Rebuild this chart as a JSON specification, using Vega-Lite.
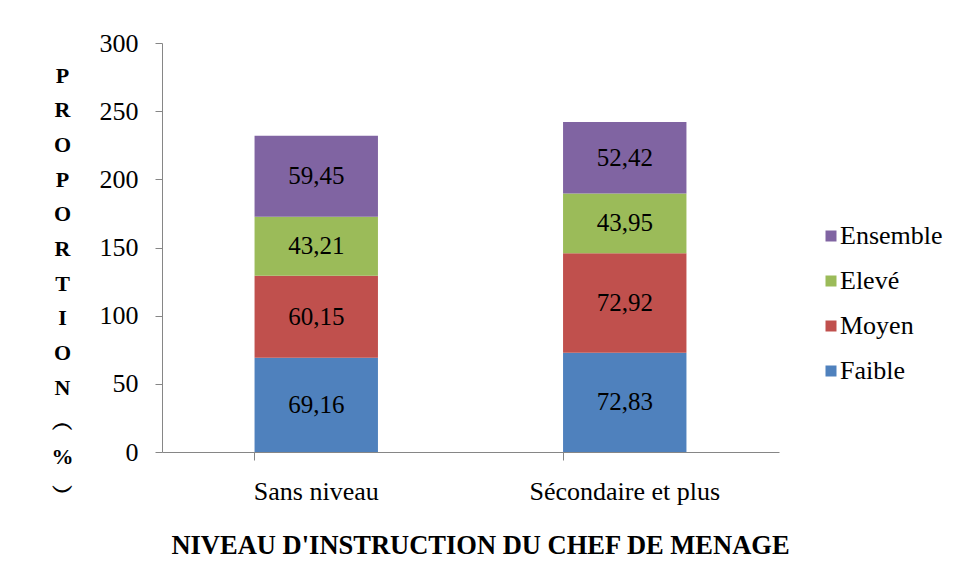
{
  "$schema": "https://vega.github.io/schema/vega-lite/v6.json",
  "width": 617,
  "height": 409,
  "autosize": {"type": "none"},
  "padding": {"left": 162, "top": 43, "right": 179, "bottom": 130},
  "background": "white",
  "config": {
    "view": {"stroke": null},
    "font": "Liberation Serif",
    "locale": {"number": {"decimal": ",", "thousands": " ", "grouping": [3], "currency": ["", " €"]}}
  },
  "data": {
    "values": [
      {"niveau": "Sans niveau", "cat": "Faible", "ord": 1, "v": 69.16},
      {"niveau": "Sans niveau", "cat": "Moyen", "ord": 2, "v": 60.15},
      {"niveau": "Sans niveau", "cat": "Elevé", "ord": 3, "v": 43.21},
      {"niveau": "Sans niveau", "cat": "Ensemble", "ord": 4, "v": 59.45},
      {"niveau": "Sécondaire et plus", "cat": "Faible", "ord": 1, "v": 72.83},
      {"niveau": "Sécondaire et plus", "cat": "Moyen", "ord": 2, "v": 72.92},
      {"niveau": "Sécondaire et plus", "cat": "Elevé", "ord": 3, "v": 43.95},
      {"niveau": "Sécondaire et plus", "cat": "Ensemble", "ord": 4, "v": 52.42}
    ]
  },
  "encoding": {
    "x": {
      "field": "niveau",
      "type": "nominal",
      "sort": ["Sans niveau", "Sécondaire et plus"],
      "scale": {"paddingInner": 0.6, "paddingOuter": 0.3},
      "axis": {
        "title": "NIVEAU D'INSTRUCTION DU CHEF DE MENAGE",
        "titleFont": "Liberation Serif",
        "titleFontSize": 26.5,
        "titleFontWeight": "bold",
        "titleColor": "#000000",
        "titleX": 318,
        "titleY": 93,
        "titleAlign": "center",
        "titleBaseline": "middle",
        "labelAngle": 0,
        "labelFont": "Liberation Serif",
        "labelFontSize": 26,
        "labelColor": "#000000",
        "labelPadding": 18,
        "labelLimit": 400,
        "domainColor": "#868686",
        "tickColor": "#868686",
        "tickSize": 8,
        "bandPosition": 0
      }
    },
    "y": {
      "field": "v",
      "type": "quantitative",
      "stack": "zero",
      "scale": {"domain": [0, 300], "nice": false},
      "axis": {
        "values": [0, 50, 100, 150, 200, 250, 300],
        "grid": false,
        "title": ["P", "R", "O", "P", "O", "R", "T", "I", "O", "N", "︵", "%", "︶"],
        "titleAngle": 0,
        "titleAlign": "center",
        "titleBaseline": "top",
        "titleX": -100,
        "titleY": 22,
        "titleLineHeight": 34.7,
        "titleFont": "Liberation Serif",
        "titleFontSize": 22,
        "titleFontWeight": "bold",
        "titleColor": "#000000",
        "labelFont": "Liberation Serif",
        "labelFontSize": 26,
        "labelColor": "#000000",
        "labelPadding": 17,
        "domainColor": "#868686",
        "tickColor": "#868686",
        "tickSize": 7
      }
    },
    "order": {"field": "ord", "type": "quantitative", "sort": "ascending"}
  },
  "layer": [
    {
      "mark": {"type": "bar"},
      "encoding": {
        "color": {
          "field": "cat",
          "type": "nominal",
          "scale": {
            "domain": ["Ensemble", "Elevé", "Moyen", "Faible"],
            "range": ["#8064A2", "#9BBB59", "#C0504D", "#4F81BD"]
          },
          "legend": {
            "title": null,
            "orient": "none",
            "legendX": 656,
            "legendY": 180,
            "symbolType": "square",
            "symbolSize": 121,
            "symbolStrokeWidth": 0,
            "symbolOpacity": 1,
            "labelFont": "Liberation Serif",
            "labelFontSize": 26,
            "labelColor": "#000000",
            "labelOffset": -4,
            "rowPadding": 19
          }
        }
      }
    },
    {
      "mark": {"type": "text", "font": "Liberation Serif", "fontSize": 25, "color": "#000000", "baseline": "middle"},
      "encoding": {
        "y": {"field": "v", "type": "quantitative", "stack": "zero", "bandPosition": 0.5},
        "text": {"field": "v", "type": "quantitative", "format": ".2f"}
      }
    }
  ]
}
